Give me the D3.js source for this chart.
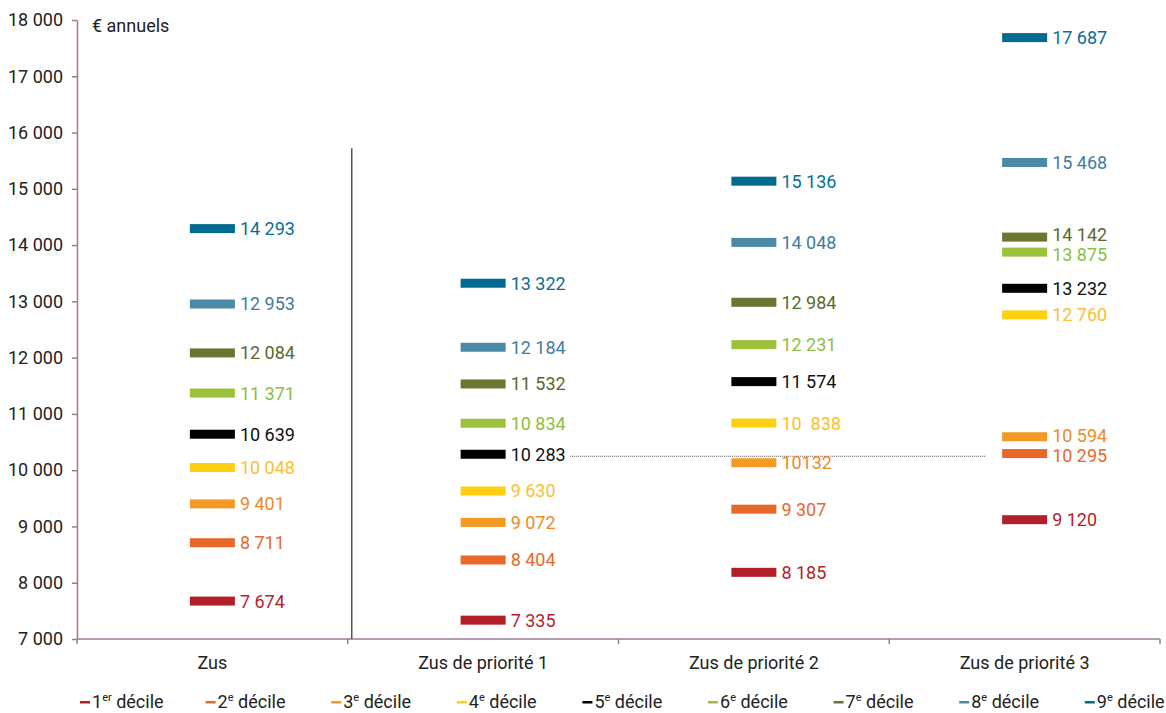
<!DOCTYPE html>
<html>
<head>
<meta charset="utf-8">
<script src="https://cdn.jsdelivr.net/npm/d3@7"></script>
<style>
  body { margin: 0; background: #fff; }
  svg text { font-family: Roboto, "Liberation Sans", sans-serif; }
</style>
</head>
<body>
<div id="chart"></div>
<script>
// categories on the x axis
const categories = ['Zus', 'Zus de priorité 1', 'Zus de priorité 2', 'Zus de priorité 3'];

// decile names for the legend (number + superscript)
const decileNum = ['1', '2', '3', '4', '5', '6', '7', '8', '9'];
const decileSup = ['er', 'e', 'e', 'e', 'e', 'e', 'e', 'e', 'e'];

// values per category, deciles 1..9
const zusValues = [7674, 8711, 9401, 10048, 10639, 11371, 12084, 12953, 14293];
const p1Values  = [7335, 8404, 9072, 9630, 10283, 10834, 11532, 12184, 13322];
const p2Values  = [8185, 9307, 10132, 10838, 11574, 12231, 12984, 14048, 15136];
const p3Values  = [9120, 10295, 10594, 12760, 13232, 13875, 14142, 15468, 17687];

// labels as printed in the source
const zusLabels = ['7 674', '8 711', '9 401', '10 048', '10 639', '11 371', '12 084', '12 953', '14 293'];
const p1Labels  = ['7 335', '8 404', '9 072', '9 630', '10 283', '10 834', '11 532', '12 184', '13 322'];
const p2Labels  = ['8 185', '9 307', '10132', '10  838', '11 574', '12 231', '12 984', '14 048', '15 136'];
const p3Labels  = ['9 120', '10 295', '10 594', '12 760', '13 232', '13 875', '14 142', '15 468', '17 687'];

const yTicks = [7000, 8000, 9000, 10000, 11000, 12000, 13000, 14000, 15000, 16000, 17000, 18000];

// reference: median of priority-1 zones, dotted across
const refValue = 10283;
// top of the vertical separator after "Zus"
const separatorTop = 15720;

const colors = ['#b31f29', '#e8682a', '#f29a24', '#fecf13', '#000000', '#9cc23c', '#6a7631', '#4b8aa6', '#006b91'];
const labelColors = ['#b31f29', '#e8682a', '#ee8a28', '#fbc02d', '#111111', '#8cbf3f', '#5a6a2c', '#3f7d9c', '#0a6f95'];

const allValues = [zusValues, p1Values, p2Values, p3Values];
const allLabels = [zusLabels, p1Labels, p2Labels, p3Labels];

const width = 1166, height = 713;
const margin = { top: 20, right: 6, bottom: 74, left: 77 };
const axisColor = '#9a7a98';

const svg = d3.select('#chart')
    .append('svg')
    .attr('width', width)
    .attr('height', height);

const x = d3.scaleBand()
    .domain(categories)
    .range([margin.left, width - margin.right]);

const y = d3.scaleLinear()
    .domain([7000, 18000])
    .range([height - margin.bottom, margin.top]);

// y axis
const yAxis = svg.append('g')
    .attr('transform', `translate(${margin.left},0)`)
    .call(d3.axisLeft(y).tickValues(yTicks).tickSize(5).tickSizeOuter(0)
        .tickFormat(d => d3.format(',')(d).replace(',', ' ')));
yAxis.select('.domain').attr('stroke', axisColor).attr('stroke-width', 1.5);
yAxis.selectAll('.tick line').attr('stroke', axisColor).attr('stroke-width', 1.5);
yAxis.selectAll('.tick text')
    .attr('x', -14)
    .attr('fill', '#222')
    .style('font-size', '18px');

// x axis: line + ticks at category boundaries
const xg = svg.append('g');
const y0 = y(7000);
xg.append('line')
    .attr('x1', margin.left).attr('x2', width - margin.right)
    .attr('y1', y0).attr('y2', y0)
    .attr('stroke', axisColor).attr('stroke-width', 1.5);
const bounds = categories.map(c => x(c)).concat([x.range()[1]]);
xg.selectAll('line.tk')
    .data(bounds)
    .enter()
    .append('line')
    .attr('class', 'tk')
    .attr('x1', d => d).attr('x2', d => d)
    .attr('y1', y0).attr('y2', y0 + 5)
    .attr('stroke', axisColor).attr('stroke-width', 1.5);
xg.selectAll('text')
    .data(categories)
    .enter()
    .append('text')
    .attr('x', d => x(d) + x.bandwidth() / 2)
    .attr('y', y0 + 30)
    .attr('text-anchor', 'middle')
    .attr('fill', '#222')
    .style('font-size', '18px')
    .text(d => d);

// unit label
svg.append('text')
    .attr('x', 92)
    .attr('y', 32)
    .attr('fill', '#222')
    .style('font-size', '18px')
    .text('€ annuels');

// separator between Zus and priority zones
svg.append('line')
    .attr('x1', x(categories[1]) + 4).attr('x2', x(categories[1]) + 4)
    .attr('y1', y(separatorTop)).attr('y2', y0)
    .attr('stroke', '#555').attr('stroke-width', 1.5);

// dotted reference line
svg.append('line')
    .attr('x1', x(categories[1]) + x.bandwidth() / 2 + 87)
    .attr('x2', x(categories[3]) + x.bandwidth() / 2 - 39)
    .attr('y1', y(refValue) + 2).attr('y2', y(refValue) + 2)
    .attr('stroke', '#555').attr('stroke-width', 1)
    .attr('stroke-dasharray', '1,1');

// push labels apart when they are too close
function spreadLabels(rows, minGap) {
    const sorted = rows.slice().sort((a, b) => a.ly - b.ly);
    for (let k = 1; k < sorted.length; k++) {
        const gap = sorted[k].ly - sorted[k - 1].ly;
        if (gap < minGap) {
            const shift = (minGap - gap) / 2;
            sorted[k - 1].ly -= shift;
            sorted[k].ly += shift;
        }
    }
}

// decile marks
const barW = 45, barH = 9;
categories.forEach((cat, ci) => {
    const cx = x(cat) + x.bandwidth() / 2;
    const g = svg.append('g');
    const rows = allValues[ci].map((v, i) => ({ v: v, i: i, label: allLabels[ci][i], ly: y(v) }));
    spreadLabels(rows, 20);
    g.selectAll('rect')
        .data(rows)
        .enter()
        .append('rect')
        .attr('x', cx - barW / 2)
        .attr('y', d => y(d.v) - barH / 2)
        .attr('width', barW)
        .attr('height', barH)
        .attr('fill', d => colors[d.i]);
    g.selectAll('text')
        .data(rows)
        .enter()
        .append('text')
        .attr('x', cx + barW / 2 + 5)
        .attr('y', d => d.ly)
        .attr('dy', '0.36em')
        .attr('fill', d => labelColors[d.i])
        .style('font-size', '18px')
        .style('white-space', 'pre')
        .attr('xml:space', 'preserve')
        .text(d => d.label);
});

// legend
const legend = svg.append('g');
const legendY = 708;
const item = legend.selectAll('g')
    .data(decileNum)
    .enter()
    .append('g')
    .attr('transform', (d, i) => `translate(${80 + i * 125.6},${legendY})`);
item.append('rect')
    .attr('x', 0).attr('y', -7)
    .attr('width', 10).attr('height', 2.5)
    .attr('fill', (d, i) => colors[i]);
const lt = item.append('text')
    .attr('x', 12)
    .attr('y', 0)
    .attr('fill', '#222')
    .style('font-size', '18px');
lt.append('tspan').text(d => d);
lt.append('tspan')
    .attr('dy', -7)
    .style('font-size', '11px')
    .text((d, i) => decileSup[i]);
lt.append('tspan')
    .attr('dy', 7)
    .text(' décile');
</script>
</body>
</html>
